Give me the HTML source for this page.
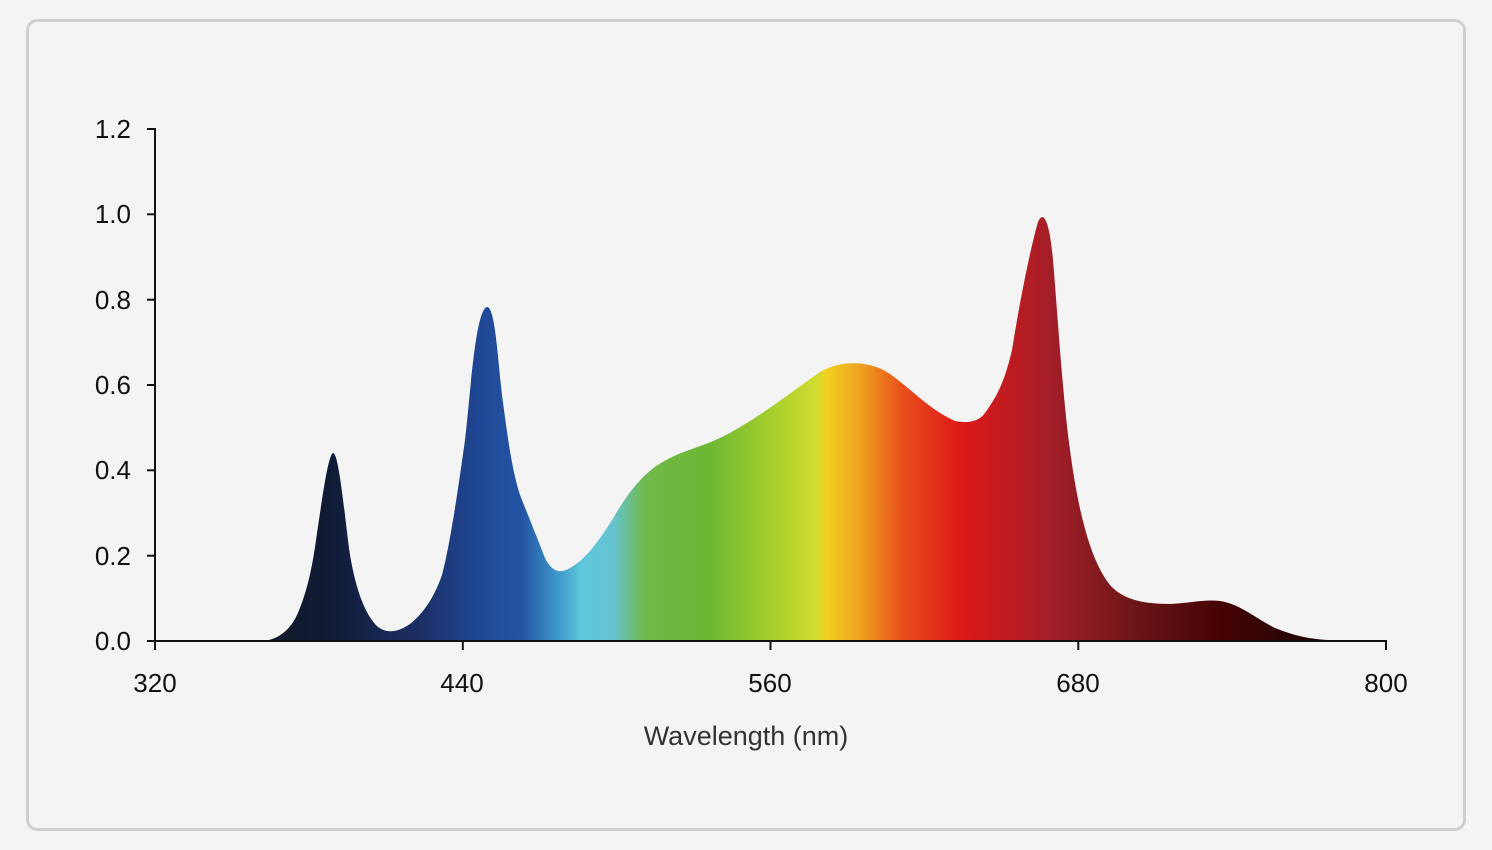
<!DOCTYPE html>
<html><head><meta charset="utf-8"><style>
html,body{margin:0;padding:0;background:#f4f4f4;}
svg{display:block;}
text{font-family:"Liberation Sans",sans-serif;}
</style></head><body>
<svg width="1492" height="850" viewBox="0 0 1492 850" xmlns="http://www.w3.org/2000/svg">
<defs>
<linearGradient id="g" gradientUnits="userSpaceOnUse" x1="260" y1="0" x2="1330" y2="0">
<stop offset="0" stop-color="#141a26"/>
<stop offset="0.06" stop-color="#0f1a33"/>
<stop offset="0.15" stop-color="#1c2f66"/>
<stop offset="0.205" stop-color="#1f4796"/>
<stop offset="0.245" stop-color="#2355a5"/>
<stop offset="0.28" stop-color="#3f9bcc"/>
<stop offset="0.3" stop-color="#5ec6dc"/>
<stop offset="0.33" stop-color="#66c4cf"/>
<stop offset="0.36" stop-color="#70b94a"/>
<stop offset="0.42" stop-color="#6cb832"/>
<stop offset="0.48" stop-color="#a8cf2c"/>
<stop offset="0.52" stop-color="#d2dc30"/>
<stop offset="0.53" stop-color="#f2d020"/>
<stop offset="0.565" stop-color="#ee9a20"/>
<stop offset="0.6" stop-color="#e8501c"/>
<stop offset="0.655" stop-color="#de1818"/>
<stop offset="0.74" stop-color="#a21e28"/>
<stop offset="0.815" stop-color="#6e1618"/>
<stop offset="0.9" stop-color="#440202"/>
<stop offset="1" stop-color="#1a0808"/>
</linearGradient>
</defs>
<rect x="27.5" y="20.5" width="1437" height="809" rx="10" fill="#f4f4f4" stroke="#cfcfcf" stroke-width="3"/>
<path fill="url(#g)" d="M262,641 C278,640 290,630 297,615 C306,595 312,570 316,540 C322,500 328,455 333,453 C339,452 345,520 350,555 C356,590 365,615 378,627 C388,634 398,632 410,624 C425,612 435,595 442,575 C450,545 458,490 465,440 C470,400 475,310 487,307 C495,306 498,360 502,395 C508,440 512,470 520,495 C530,520 538,540 545,558 C552,572 560,574 570,568 C585,560 600,540 615,515 C630,490 645,470 670,458 C690,448 710,445 735,430 C765,413 790,393 820,372 C840,360 870,360 890,374 C910,388 930,410 955,421 C965,423 978,423 985,413 C998,395 1005,380 1012,350 C1020,300 1030,250 1038,222 C1044,208 1050,225 1053,260 C1058,320 1063,400 1070,450 C1078,510 1090,560 1110,585 C1125,602 1150,604 1170,604 C1190,603 1205,599 1220,601 C1240,604 1255,618 1275,628 C1295,636 1310,639 1328,640 L1328,641 Z"/>
<g stroke="#111" stroke-width="2" fill="none">
<line x1="155" y1="128" x2="155" y2="642"/>
<line x1="154" y1="641" x2="1387" y2="641"/>
<line x1="147" y1="129" x2="155" y2="129"/>
<line x1="147" y1="214.3" x2="155" y2="214.3"/>
<line x1="147" y1="299.7" x2="155" y2="299.7"/>
<line x1="147" y1="385" x2="155" y2="385"/>
<line x1="147" y1="470.3" x2="155" y2="470.3"/>
<line x1="147" y1="555.7" x2="155" y2="555.7"/>
<line x1="147" y1="641" x2="155" y2="641"/>
<line x1="155" y1="641" x2="155" y2="650"/>
<line x1="462.8" y1="641" x2="462.8" y2="650"/>
<line x1="770.5" y1="641" x2="770.5" y2="650"/>
<line x1="1078.3" y1="641" x2="1078.3" y2="650"/>
<line x1="1386" y1="641" x2="1386" y2="650"/>
</g>
<g font-size="26" font-weight="500" fill="#111" text-anchor="end">
<text x="131" y="138">1.2</text>
<text x="131" y="223">1.0</text>
<text x="131" y="309">0.8</text>
<text x="131" y="394">0.6</text>
<text x="131" y="479">0.4</text>
<text x="131" y="565">0.2</text>
<text x="131" y="650">0.0</text>
</g>
<g font-size="26" font-weight="500" fill="#111" text-anchor="middle">
<text x="155" y="692">320</text>
<text x="462" y="692">440</text>
<text x="770" y="692">560</text>
<text x="1078" y="692">680</text>
<text x="1386" y="692">800</text>
</g>
<text x="746" y="745" font-size="27" font-weight="500" fill="#333" text-anchor="middle">Wavelength (nm)</text>
</svg>
</body></html>
